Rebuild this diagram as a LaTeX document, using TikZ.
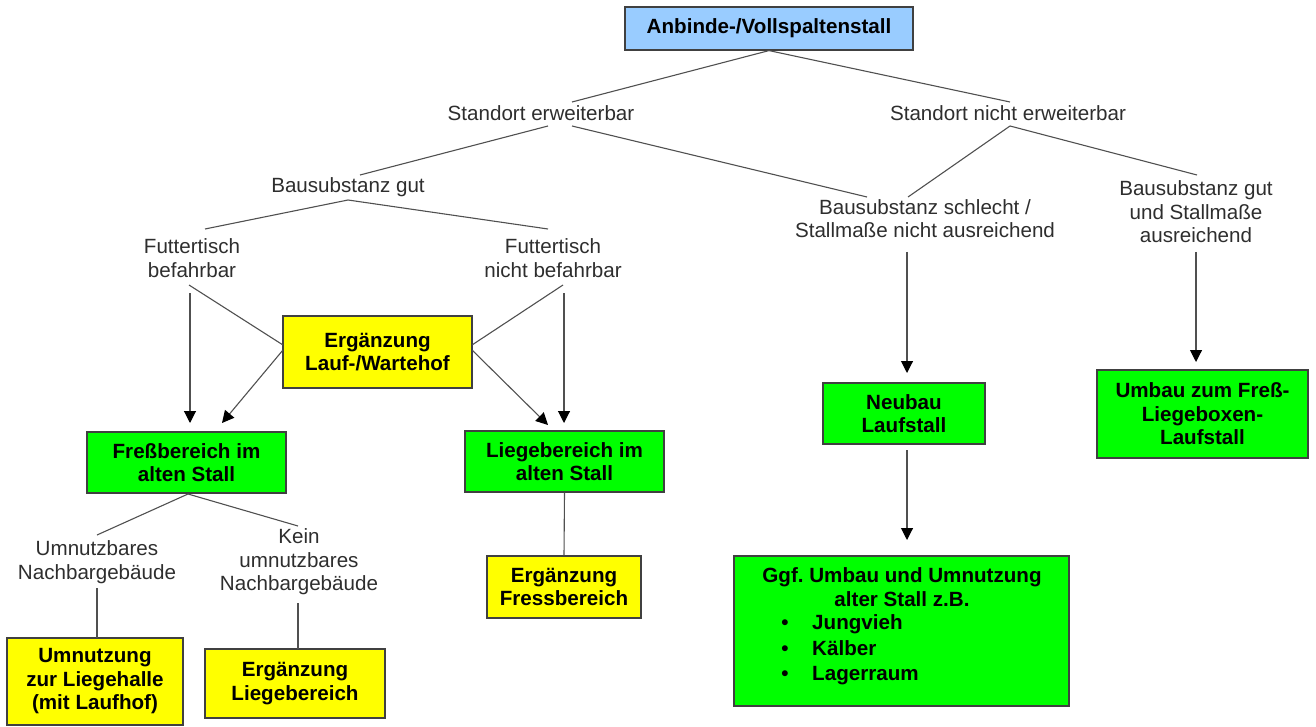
\documentclass[tikz,border=0pt]{standalone}
\usepackage{fontspec}
\setmainfont{Liberation Sans}
\usetikzlibrary{arrows.meta}
\definecolor{boxblue}{HTML}{99CCFF}
\definecolor{boxgreen}{HTML}{00FF00}
\definecolor{boxyellow}{HTML}{FFFF00}
\definecolor{boxborder}{HTML}{404040}
\definecolor{linegray}{HTML}{505050}
\definecolor{labelgray}{HTML}{2E2E2E}
\begin{document}
\begin{tikzpicture}[x=1pt,y=-1pt,
  txt/.style={font=\fontsize{20.6}{23.5}\selectfont, inner sep=0pt},
  box/.style={draw=boxborder, line width=1.2pt, inner sep=0pt, align=center,
              font=\fontsize{20.6}{23.5}\selectfont\bfseries},
  bluebox/.style={box, fill=boxblue},
  greenbox/.style={box, fill=boxgreen},
  yellowbox/.style={box, fill=boxyellow},
  lbl/.style={txt, text=labelgray, align=center},
  boldtxt/.style={txt, font=\fontsize{20.6}{23.5}\selectfont\bfseries, text height=15pt, text depth=4.5pt},
  conn/.style={draw=linegray, line width=1.1pt},
  arr/.style={conn, -{Triangle[length=12pt,width=12pt,color=black]}}
]
\useasboundingbox (0,0) rectangle (1316,727);

% boxes
\node[bluebox, minimum width=288, minimum height=43] (top) at (769,28.5) {Anbinde-/Vollspaltenstall};
\node[yellowbox, minimum width=189, minimum height=72] (erg) at (377.5,352) {Ergänzung\\Lauf-/Wartehof};
\node[greenbox, minimum width=199, minimum height=61] (fress) at (186.5,462.5) {Freßbereich im\\alten Stall};
\node[greenbox, minimum width=199, minimum height=61] (lieg) at (564.5,461.5) {Liegebereich im\\alten Stall};
\node[yellowbox, minimum width=154, minimum height=62] (ergf) at (564,587) {Ergänzung\\Fressbereich};
\node[yellowbox, minimum width=176, minimum height=87] (umn) at (95,681.5) {Umnutzung\\zur Liegehalle\\(mit Laufhof)};
\node[yellowbox, minimum width=180, minimum height=69] (ergl) at (295,683.5) {Ergänzung\\Liegebereich};
\node[greenbox, minimum width=162, minimum height=61] (neu) at (904,413.5) {Neubau\\Laufstall};
\node[greenbox, minimum width=211, minimum height=88] (umb) at (1202.5,414) {Umbau zum Freß-\\Liegeboxen-\\Laufstall};
\node[greenbox, minimum width=335, minimum height=150] (gg) at (901.5,631) {};
\node[boldtxt] (gg1) at (902,577) {Ggf.\ Umbau und Umnutzung};
\node[boldtxt] (gg2) at (902,601) {alter Stall z.B.};
\node[boldtxt] (b1) at (785,624) {•};
\node[boldtxt] (b2) at (785,650) {•};
\node[boldtxt] (b3) at (785,675) {•};
\node[boldtxt, anchor=west] (gg3) at (812,624) {Jungvieh};
\node[boldtxt, anchor=west] (gg4) at (812,650) {Kälber};
\node[boldtxt, anchor=west] (gg5) at (812,675) {Lagerraum};

% labels
\node[lbl] (se) at (541,113) {Standort erweiterbar};
\node[lbl] (sne) at (1008,113) {Standort nicht erweiterbar};
\node[lbl] (bg) at (348,187) {Bausubstanz gut};
\node[lbl] (bs) at (925,218.5) {Bausubstanz schlecht /\\Stallmaße nicht ausreichend};
\node[lbl] (bgs) at (1196,212) {Bausubstanz gut\\und Stallmaße\\ausreichend};
\node[lbl] (fb) at (192,258) {Futtertisch\\befahrbar};
\node[lbl] (fnb) at (553,258) {Futtertisch\\nicht befahrbar};
\node[lbl] (un) at (97,562) {Umnutzbares\\Nachbargebäude};
\node[lbl] (kun) at (299,562) {Kein\\umnutzbares\\Nachbargebäude};

% connector end points
\coordinate (se-n) at (572,102);
\coordinate (sne-n) at (1010,102);
\coordinate (se-s1) at (548,126);
\coordinate (se-s2) at (572,126);
\coordinate (sne-s) at (1010,126);
\coordinate (bg-n) at (360,175);
\coordinate (bs-n1) at (867,197);
\coordinate (bs-n2) at (908,197);
\coordinate (bgs-n) at (1197,175);
\coordinate (bg-s) at (348,200);
\coordinate (fb-n) at (205,229);
\coordinate (fnb-n) at (548,229);
\coordinate (fb-s1) at (189,285);
\coordinate (fb-s2) at (190,293);
\coordinate (fress-t1) at (190,423);
\coordinate (fress-t2) at (222,423);
\coordinate (erg-w1) at (283,345);
\coordinate (erg-w2) at (283,350);
\coordinate (erg-e1) at (472,345);
\coordinate (erg-e2) at (472,350);
\coordinate (fnb-s1) at (563,285);
\coordinate (fnb-s2) at (564,293);
\coordinate (lieg-t1) at (548,425);
\coordinate (lieg-t2) at (564,423);
\coordinate (bs-s) at (907,252);
\coordinate (neu-t) at (907,373);
\coordinate (bgs-s) at (1196,252);
\coordinate (umb-t) at (1196,362);
\coordinate (neu-b) at (907,450);
\coordinate (gg-t) at (907,540);
\coordinate (fress-b) at (188,494);
\coordinate (un-n) at (97,535);
\coordinate (kun-n) at (298,526);
\coordinate (un-s) at (97,588);
\coordinate (umn-t) at (97,638);
\coordinate (kun-s) at (298,603);
\coordinate (ergl-t) at (298,649);

% connectors
\draw[conn] (top.south) -- (se-n);
\draw[conn] (top.south) -- (sne-n);
\draw[conn] (se-s1) -- (bg-n);
\draw[conn] (se-s2) -- (bs-n1);
\draw[conn] (sne-s) -- (bs-n2);
\draw[conn] (sne-s) -- (bgs-n);
\draw[conn] (bg-s) -- (fb-n);
\draw[conn] (bg-s) -- (fnb-n);
\draw[arr] (fb-s2) -- (fress-t1);
\draw[conn] (fb-s1) -- (erg-w1);
\draw[arr] (erg-w2) -- (fress-t2);
\draw[conn] (erg-e1) -- (fnb-s1);
\draw[arr] (fnb-s2) -- (lieg-t2);
\draw[arr] (erg-e2) -- (lieg-t1);
\draw[arr] (bs-s) -- (neu-t);
\draw[arr] (bgs-s) -- (umb-t);
\draw[arr] (neu-b) -- (gg-t);
\draw[conn] (lieg.south) -- (ergf.north);
\draw[conn] (fress-b) -- (un-n);
\draw[conn] (fress-b) -- (kun-n);
\draw[conn] (un-s) -- (umn-t);
\draw[conn] (kun-s) -- (ergl-t);
\end{tikzpicture}
\end{document}
